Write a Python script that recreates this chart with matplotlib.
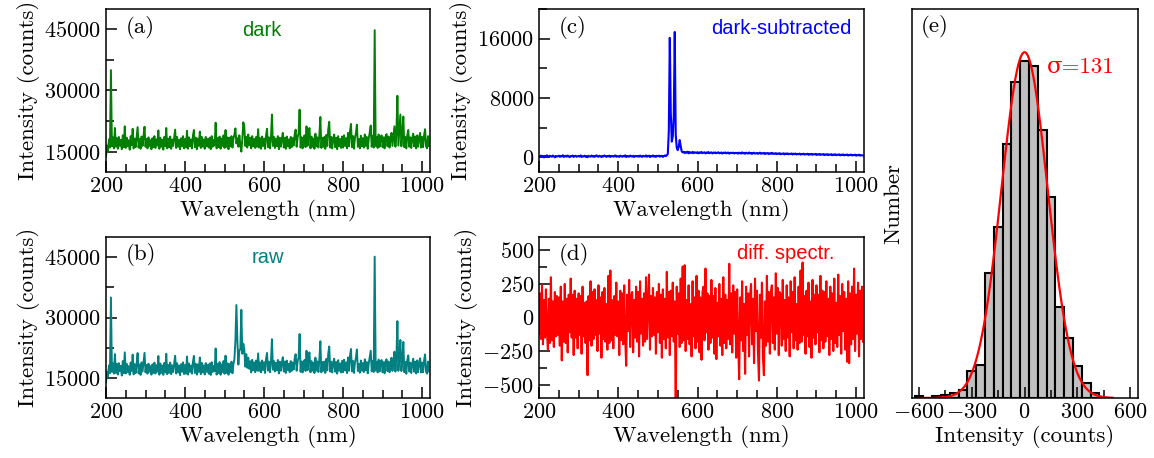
import numpy as np
import matplotlib
matplotlib.use("Agg")
import matplotlib.pyplot as plt
from matplotlib.ticker import MultipleLocator

plt.rcParams['font.family'] = 'serif'
plt.rcParams['font.serif'] = ['cmr10']
plt.rcParams['mathtext.fontset'] = 'cm'
plt.rcParams['axes.formatter.use_mathtext'] = True

# wavelength grid of the spectra (nm)
wavelength = np.arange(200, 1020, 2.5)

# dark spectrum, in units of 100 counts
dark_hundreds = [
    138, 165, 150, 180, 160, 350, 163, 185, 158, 208, 162, 183, 157, 186, 164, 179, 156, 190, 161, 212,
    159, 184, 163, 178, 155, 188, 166, 206, 158, 182, 161, 185, 210, 160, 181, 157, 187, 164, 189, 211,
    162, 181, 158, 185, 164, 178, 156, 183, 161, 188, 159, 180, 165, 202, 157, 184, 162, 179, 155, 186,
    163, 208, 158, 182, 161, 187, 157, 180, 164, 184, 204, 159, 186, 162, 179, 156, 183, 163, 188, 158,
    181, 160, 201, 157, 185, 163, 180, 158, 189, 203, 161, 184, 156, 182, 164, 199, 159, 186, 162, 180,
    157, 186, 163, 181, 160, 184, 156, 188, 162, 179, 165, 221, 158, 183, 161, 187, 157, 182, 164, 190,
    159, 203, 162, 185, 156, 184, 163, 188, 160, 182, 192, 207, 170, 183, 162, 190, 166, 150, 180, 222,
    212, 164, 186, 160, 192, 166, 184, 158, 188, 163, 181, 159, 186, 162, 205, 160, 183, 157, 187, 164,
    182, 157, 190, 206, 161, 185, 158, 183, 241, 164, 186, 159, 182, 163, 188, 156, 184, 162, 181, 196,
    160, 184, 157, 187, 163, 180, 158, 186, 161, 183, 165, 192, 204, 162, 185, 196, 253, 160, 185, 158,
    183, 190, 161, 212, 164, 200, 208, 158, 187, 162, 182, 157, 194, 163, 185, 160, 190, 235, 159, 184,
    162, 186, 157, 191, 164, 205, 223, 160, 186, 158, 183, 192, 161, 184, 156, 188, 163, 181, 159, 187,
    160, 190, 164, 183, 158, 196, 163, 200, 218, 161, 188, 157, 184, 195, 216, 162, 181, 158, 189, 163,
    183, 160, 192, 164, 186, 157, 182, 197, 214, 162, 188, 160, 448, 164, 186, 159, 192, 162, 184, 190,
    161, 185, 158, 187, 193, 163, 187, 160, 182, 196, 164, 189, 212, 162, 198, 287, 165, 205, 241, 163,
    192, 236, 161, 186, 158, 190, 203, 162, 185, 159, 183, 194, 163, 187, 158, 190, 162, 184, 196, 160,
    186, 161, 190, 205, 163, 158, 188, 164,
]

# dark-subtracted spectrum (counts)
sub_counts = [
    120, 40, 210, 90, 160, -30, 180, 70, 250, 110, 20, 190, 130, 60, 220, 100, -20, 170, 80, 140,
    200, 50, 150, 110, 260, 30, 120, 180, 70, 230, 90, 10, 160, 120, 210, 40, 140, 190, 60, 110,
    170, 80, 240, 30, 130, 100, 200, 60, 150, -10, 180, 120, 70, 220, 90, 160, 40, 140, 250, 100,
    60, 190, 120, 20, 170, 90, 230, 130, 50, 160, 100, 210, 30, 140, 180, 80, 120, 240, 60, 150,
    110, 40, 200, 130, 70, 180, 90, 250, 20, 160, 120, 60, 210, 140, 80, 190, 30, 130, 170, 100,
    150, 70, 220, 110, 40, 180, 130, 90, 240, 60, 140, 200, 20, 160, 110, 230, 80, 150, 50, 190,
    120, 210, 70, 140, 180, 40, 160, 230, 150, 260, 420, 3500, 16100, 6000, 2100, 2800, 5500, 16900, 3000, 1300,
    950, 1400, 2300, 1500, 800, 650, 720, 560, 680, 610, 740, 520, 690, 600, 580, 710, 540, 660, 620, 570,
    680, 520, 640, 590, 700, 550, 610, 660, 500, 630, 580, 690, 540, 600, 650, 510, 620, 570, 640, 530,
    600, 660, 520, 580, 630, 490, 610, 560, 640, 520, 590, 620, 480, 570, 600, 540, 610, 500, 580, 550,
    590, 470, 610, 540, 500, 650, 520, 580, 460, 600, 550, 490, 630, 510, 570, 440, 560, 600, 480, 530,
    570, 450, 520, 610, 470, 530, 490, 580, 430, 540, 500, 560, 420, 520, 470, 590, 440, 500, 460, 540,
    420, 500, 450, 540, 390, 470, 460, 520, 380, 490, 430, 510, 400, 450, 440, 500, 360, 470, 410, 490,
    370, 450, 400, 480, 340, 440, 390, 470, 350, 410, 400, 460, 320, 420, 370, 450, 330, 390, 380, 440,
    300, 400, 350, 430, 310, 370, 360, 420, 280, 380, 330, 410, 290, 350, 340, 400, 260, 360, 310, 390,
    270, 330, 320, 380, 240, 340, 290, 370, 250, 310, 300, 360, 220, 320, 270, 350, 230, 290, 280, 340,
    200, 300, 250, 330, 210, 270, 260, 220,
]

# difference of two spectra (counts)
diff_counts = [
    -120, 180, -160, 240, -200, 130, -150, 210, -110, -240, 140, -190, 300, -170, 120, -220, 190, -140, 160, -130,
    150, -210, 230, -320, 120, -180, 250, -190, 140, -260, 170, -110, 290, -150, 170, -280, 200, -150, 140, -230,
    180, -130, 160, -270, 230, -140, 110, -190, 120, -430, 160, -170, 270, -210, 190, -160, 210, -130, 130, -250,
    240, -120, 150, -300, 190, -160, 220, -180, 100, -240, 310, -190, 350, -170, 130, -230, 160, -130, 260, -140,
    120, -280, 200, -170, 180, -200, 240, -150, -360, 170, -100, 280, -220, 160, 190, -260, 130, -150, 230, -180,
    190, -290, 270, -120, 140, -210, 180, -180, 300, -160, 110, 320, -240, 160, -140, 220, -130, 150, -270, 190,
    -110, 250, -190, 170, -300, 210, -160, 140, -230, 340, -150, 190, -280, 200, -140, 260, -180, 120, -650, 230,
    -120, 180, -220, 290, -190, 380, -170, 390, -250, 130, -160, 240, -200, 100, -290, 270, -140, 150, -230, 310,
    -180, 200, -260, 150, -315, 190, 230, -170, 365, -110, 180, -240, 160, -190, 280, -150, 160, -270, 220, -310,
    110, -140, 250, -210, 140, -280, 300, -190, 170, -230, 130, -160, 400, -200, 180, -260, 240, -120, 190, -300,
    210, -180, -460, 150, -170, 270, -250, 100, -420, 230, -130, 180, -290, 160, 250, -200, 140, -340, 290, -100,
    200, -260, -470, 170, -150, 260, -300, -430, 120, -210, 310, -180, 190, -270, 180, 240, -190, 150, -240, 330,
    -120, 220, -280, 190, 170, -210, 280, -160, 130, -250, 240, -150, 150, -290, 270, -110, 190, -230, 300, -170,
    100, -240, 230, -190, 350, -180, 410, -130, 160, -270, 200, -140, 260, -220, 120, -300, 280, -150, 170, -200,
    240, -110, 170, -260, 310, -170, 200, -230, 190, -180, 270, -140, 140, -280, 230, -160, 180, -250, 290, -190,
    110, -220, 320, -130, 160, -270, 250, -100, 190, -240, 140, -330, 270, -340, 180, -200, 230, -160, 365, -250,
    170, -120, 260, -290, 200, -160, 230, -180,
]

# histogram of the difference spectrum
hist_centers = [-600, -550, -500, -450, -400, -350, -300, -250, -200, -150, -100, -50,
                0, 50, 100, 150, 200, 250, 300, 350, 400, 450]
hist_counts = [1, 0, 1, 2, 3, 5, 16, 20, 75, 103, 153, 190,
               203, 200, 161, 121, 55, 36, 19, 9, 3, 0]
fit_sigma = 131
fit_peak = 208

dark_counts = np.array(dark_hundreds) * 100
raw_counts = dark_counts + np.array(sub_counts)

W, H = 1154, 458
fig = plt.figure(figsize=(W / 100, H / 100), dpi=100)

TICK = 16
LAB = 16.5


def box(l, t, r, b):
    return fig.add_axes([l / W, 1 - b / H, (r - l) / W, (b - t) / H])


def style(ax):
    ax.tick_params(which='both', direction='in', top=False, right=False, labelsize=TICK)
    ax.tick_params(which='major', length=8, width=1.1)
    ax.tick_params(which='minor', length=5.5, width=1.1)
    for s in ax.spines.values():
        s.set_linewidth(1.1)


def spectrum_axes(ax):
    ax.set_xlim(200, 1020)
    ax.xaxis.set_major_locator(MultipleLocator(200))
    ax.xaxis.set_minor_locator(MultipleLocator(50))
    ax.set_xlabel('Wavelength (nm)', fontsize=LAB, labelpad=2)
    ax.set_ylabel('Intensity (counts)', fontsize=LAB, labelpad=3)
    style(ax)


sans = 'Liberation Sans'

# (a) dark
ax = box(106, 9, 430, 172)
ax.plot(wavelength, dark_counts, color='#008000', lw=1.4)
ax.set_ylim(10000, 50000)
ax.set_yticks([15000, 30000, 45000])
ax.yaxis.set_minor_locator(MultipleLocator(7500))
spectrum_axes(ax)
ax.text(0.06, 0.96, '(a)', transform=ax.transAxes, va='top', fontsize=LAB)
ax.text(0.48, 0.87, 'dark', transform=ax.transAxes, ha='center', va='center',
        color='#008000', family=sans, fontsize=14.5)

# (b) raw
ax = box(106, 237, 430, 398)
ax.plot(wavelength, raw_counts, color='#008080', lw=1.4)
ax.set_ylim(10000, 50000)
ax.set_yticks([15000, 30000, 45000])
ax.yaxis.set_minor_locator(MultipleLocator(7500))
spectrum_axes(ax)
ax.text(0.06, 0.96, '(b)', transform=ax.transAxes, va='top', fontsize=LAB)
ax.text(0.50, 0.87, 'raw', transform=ax.transAxes, ha='center', va='center',
        color='#008080', family=sans, fontsize=14.5)

# (c) dark-subtracted
ax = box(539, 9, 864, 172)
ax.plot(wavelength, sub_counts, color='#0000ff', lw=1.5)
ax.set_ylim(-2000, 20000)
ax.set_yticks([0, 8000, 16000])
ax.yaxis.set_minor_locator(MultipleLocator(4000))
spectrum_axes(ax)
ax.text(0.06, 0.96, '(c)', transform=ax.transAxes, va='top', fontsize=LAB)
ax.text(0.963, 0.88, 'dark-subtracted', transform=ax.transAxes, ha='right', va='center',
        color='#0000ff', family=sans, fontsize=14.5)

# (d) difference spectrum
ax = box(539, 237, 864, 398)
ax.plot(wavelength, diff_counts, color='#ff0000', lw=1.5)
ax.set_ylim(-600, 600)
ax.set_yticks([-500, -250, 0, 250, 500])
ax.yaxis.set_minor_locator(MultipleLocator(125))
spectrum_axes(ax)
ax.text(0.06, 0.96, '(d)', transform=ax.transAxes, va='top', fontsize=LAB)
ax.text(0.91, 0.90, 'diff. spectr.', transform=ax.transAxes, ha='right', va='center',
        color='#ff0000', family=sans, fontsize=14.5)

# (e) histogram
ax = box(912, 9, 1138, 398)
ax.bar(hist_centers, hist_counts, width=50, color='#c0c0c0', edgecolor='black', linewidth=1.5)
xs = np.linspace(-600, 500, 400)
ax.plot(xs, fit_peak * np.exp(-0.5 * (xs / fit_sigma) ** 2), color='#ff0000', lw=1.6)
ax.set_xlim(-640, 645)
ax.set_ylim(0, 234)
ax.set_xticks([-600, -300, 0, 300, 600])
ax.xaxis.set_minor_locator(MultipleLocator(150))
ax.set_yticks([])
ax.set_xlabel('Intensity (counts)', fontsize=LAB, labelpad=2)
ax.set_ylabel('Number', fontsize=LAB, labelpad=6)
style(ax)
ax.text(0.04, 0.985, '(e)', transform=ax.transAxes, va='top', fontsize=LAB)
ax.text(125, 199, 'σ=131', color='#ff0000', va='center', ha='left',
        family=['cmr10', 'DejaVu Serif'], fontsize=LAB)

fig.savefig('out.png', dpi=100)
